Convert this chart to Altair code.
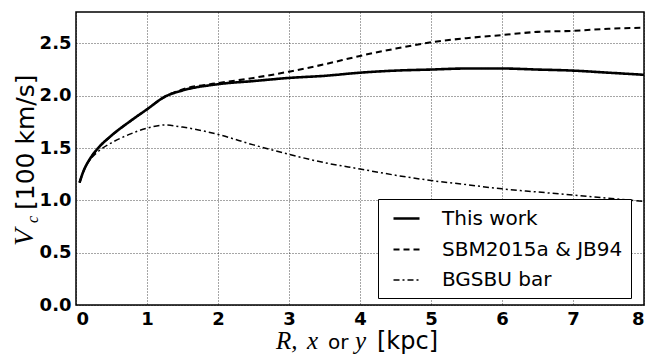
import altair as alt
import pandas as pd

R = [0.05, 0.1, 0.2, 0.3, 0.5, 0.75, 1.0, 1.25, 1.5, 2.0, 2.5, 3.0, 3.5, 4.0,
     4.5, 5.0, 5.5, 6.0, 6.5, 7.0, 7.5, 8.0]
this_work = [1.17, 1.27, 1.40, 1.49, 1.62, 1.75, 1.87, 1.99, 2.05, 2.11, 2.14,
             2.17, 2.19, 2.22, 2.24, 2.25, 2.26, 2.26, 2.25, 2.24, 2.22, 2.20]
sbm_jb = [1.17, 1.27, 1.40, 1.49, 1.62, 1.75, 1.87, 1.99, 2.06, 2.12, 2.17,
          2.23, 2.30, 2.38, 2.45, 2.51, 2.55, 2.58, 2.61, 2.62, 2.64, 2.65]
bgsbu = [1.17, 1.27, 1.39, 1.46, 1.55, 1.63, 1.69, 1.72, 1.70, 1.63, 1.53,
         1.44, 1.36, 1.30, 1.24, 1.19, 1.15, 1.11, 1.08, 1.05, 1.02, 0.99]
series_names = ["This work", "SBM2015a & JB94", "BGSBU bar"]
x_ticks = [0, 1, 2, 3, 4, 5, 6, 7, 8]
y_ticks = [0.0, 0.5, 1.0, 1.5, 2.0, 2.5]

rows = []
for name, vals in zip(series_names, [this_work, sbm_jb, bgsbu]):
    for r, v in zip(R, vals):
        rows.append({"R": r, "V": v, "series": name})
df = pd.DataFrame(rows)

W, H = 568, 293
SANS = "DejaVu Sans"
SERIF = "Liberation Serif"

leg = alt.Legend(title=None, orient="none", legendX=302, legendY=187)

lines = alt.Chart(df).mark_line(interpolate="monotone", color="black").encode(
    x=alt.X("R:Q", scale=alt.Scale(domain=[0, 8], nice=False),
            axis=alt.Axis(values=x_ticks, title=None, format="d")),
    y=alt.Y("V:Q", scale=alt.Scale(domain=[0, 2.8], nice=False),
            axis=alt.Axis(values=y_ticks, title=None, format=".1f")),
    strokeDash=alt.StrokeDash(
        "series:N",
        scale=alt.Scale(domain=series_names, range=[[1, 0], [6, 4], [6, 3, 2, 3]]),
        sort=series_names, legend=leg,
    ),
    strokeWidth=alt.StrokeWidth(
        "series:N",
        scale=alt.Scale(domain=series_names, range=[2.6, 1.5, 1.5]),
        sort=series_names, legend=leg,
    ),
)

def txt(s, x, y, font, size, style="normal", angle=0, align="left", baseline="alphabetic"):
    return alt.Chart(pd.DataFrame({"t": [s]})).mark_text(
        font=font, fontSize=size, fontStyle=style, angle=angle, align=align,
        baseline=baseline, color="black",
    ).encode(text="t:N", x=alt.value(x), y=alt.value(y))

xt = [
    txt("R,", 200, 337, SERIF, 25, "italic"),
    txt("x", 231, 337, SERIF, 25, "italic"),
    txt("or", 252, 337, SANS, 20),
    txt("y", 279, 337, SERIF, 25, "italic"),
    txt("[kpc]", 301, 337, SANS, 24),
]
yt = [
    txt("V", -43, 234, SERIF, 28, "italic", angle=270),
    txt("c", -38, 211, SERIF, 16, "italic", angle=270),
    txt("[100 km/s]", -42, 198, SANS, 25, angle=270),
]

chart = alt.layer(lines, *xt, *yt).properties(
    width=W, height=H,
    padding={"left": 76, "top": 12, "right": 18, "bottom": 53},
    autosize=alt.AutoSizeParams(type="none"),
).configure_view(
    stroke="black", strokeWidth=1.5
).configure_axis(
    grid=True, gridColor="black", gridDash=[1, 2], gridOpacity=0.7, gridWidth=1,
    domain=False, ticks=False,
    labelFont=SANS, labelFontSize=18, labelFontWeight="bold", labelColor="black",
    labelPadding=5,
).configure_legend(
    strokeColor="black", fillColor="white", padding=8, cornerRadius=0,
    labelFont=SANS, labelFontSize=20, labelColor="black", labelFontWeight="normal",
    symbolType="M-0.4,0L2.2,0", symbolSize=400, symbolStrokeColor="black",
    labelOffset=33, rowPadding=9, labelLimit=400,
)

chart.save("out.html", embed_options={"renderer": "svg", "actions": False})
